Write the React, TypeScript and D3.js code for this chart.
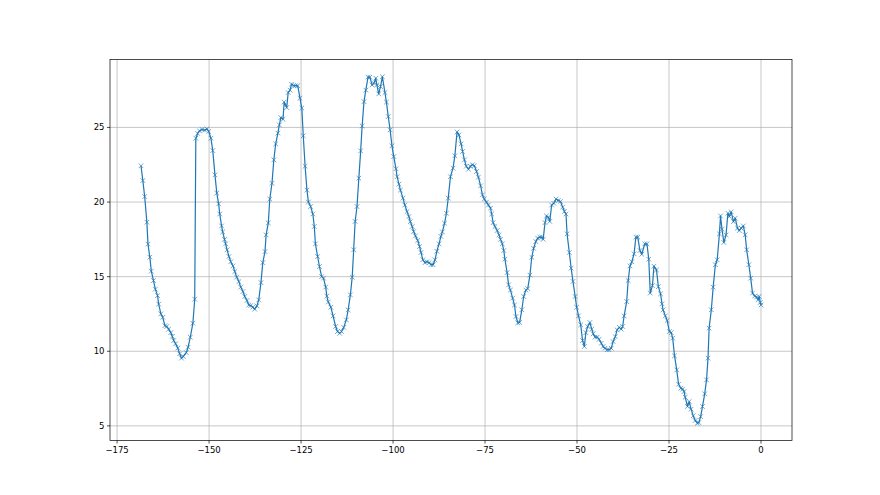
import React from "react";
import * as d3 from "d3";

const hours = [
  -168.5, -168.0, -167.5, -166.9, -166.6, -166.1, -165.7, -165.1, -164.6, -164.0,
  -163.7, -163.1, -162.6, -162.0, -161.5, -161.0, -160.4, -160.0, -159.6, -159.1,
  -158.5, -158.0, -157.5, -157.0, -156.2, -155.7, -155.1, -154.4, -153.9, -153.6,
  -153.1, -152.6, -151.9, -151.2, -150.6, -150.1, -149.5, -149.0, -148.4, -147.9,
  -147.4, -147.1, -146.6, -146.3, -145.8, -145.5, -145.1, -144.6, -144.1, -143.5,
  -143.0, -142.5, -141.9, -141.4, -140.8, -140.3, -139.7, -139.2, -138.7, -138.1,
  -137.6, -137.0, -136.5, -135.9, -135.4, -134.8, -134.5, -133.9, -133.5, -132.9,
  -132.4, -131.9, -131.3, -130.9, -130.5, -129.9, -129.6, -128.9, -128.5, -128.0,
  -127.6, -127.0, -126.5, -125.9, -125.3, -124.8, -124.4, -123.9, -123.4, -123.0,
  -122.4, -121.8, -121.4, -121.1, -120.5, -120.0, -119.4, -118.9, -118.3, -118.0,
  -117.6, -116.9, -116.3, -115.6, -115.1, -114.5, -114.0, -113.4, -112.7, -112.2,
  -111.6, -111.1, -110.7, -110.3, -109.8, -109.3, -108.8, -108.4, -107.9, -107.4,
  -106.8, -106.3, -105.7, -105.2, -104.7, -104.4, -103.9, -103.4, -102.9, -102.2,
  -101.8, -101.3, -100.8, -100.3, -99.8, -99.2, -98.9, -98.4, -98.0, -97.3,
  -96.8, -96.2, -95.7, -95.3, -94.8, -94.4, -93.9, -93.3, -92.8, -92.4,
  -91.9, -91.3, -90.8, -90.2, -89.7, -89.1, -88.6, -88.1, -87.5, -87.0,
  -86.6, -86.0, -85.5, -85.0, -84.4, -83.7, -83.2, -82.6, -82.1, -81.5,
  -81.1, -80.6, -80.1, -79.5, -79.0, -78.4, -77.9, -77.3, -76.8, -76.2,
  -75.7, -75.2, -74.6, -74.1, -73.5, -73.2, -72.8, -72.3, -71.7, -71.2,
  -70.8, -70.3, -69.9, -69.6, -69.0, -68.6, -68.1, -67.5, -67.0, -66.6,
  -66.1, -65.6, -65.0, -64.5, -63.9, -63.4, -62.8, -62.3, -61.8, -61.2,
  -60.7, -60.1, -59.6, -59.2, -58.7, -58.3, -57.8, -57.4, -56.9, -56.3,
  -55.7, -55.1, -54.5, -53.9, -53.4, -53.0, -52.7, -52.1, -51.6, -51.1,
  -50.5, -50.1, -49.6, -49.0, -48.5, -48.0, -47.6, -47.1, -46.5, -46.0,
  -45.6, -45.1, -44.5, -44.0, -43.4, -42.9, -42.4, -41.8, -41.3, -40.7,
  -40.2, -39.6, -39.1, -38.5, -38.0, -37.6, -37.2, -36.5, -36.1, -35.6,
  -35.1, -34.5, -34.0, -33.5, -32.9, -32.4, -31.6, -31.0, -30.5, -30.1,
  -29.5, -29.1, -28.4, -27.9, -27.3, -26.9, -26.6, -26.0, -25.5, -24.9,
  -24.4, -24.0, -23.5, -22.9, -22.4, -21.8, -21.3, -20.9, -20.6, -20.0,
  -19.5, -19.0, -18.4, -17.9, -17.3, -16.9, -16.4, -15.9, -15.3, -14.8,
  -14.4, -14.1, -13.5, -13.0, -12.4, -11.9, -11.3, -11.0, -10.6, -10.1,
  -9.5, -9.0, -8.6, -8.1, -7.5, -7.0, -6.4, -5.9, -5.4, -4.8,
  -4.3, -3.9, -3.3, -2.8, -2.3, -1.7, -1.2, -0.8, -0.5, -0.2,
  0.0,
];

const temps = [
  22.43, 21.44, 20.37, 18.65, 17.18, 16.31, 15.37, 14.74, 14.16, 13.73,
  13.16, 12.51, 12.28, 11.72, 11.66, 11.48, 11.25, 11.0, 10.72, 10.5,
  10.21, 9.83, 9.54, 9.65, 9.91, 10.27, 10.94, 11.88, 13.49, 24.28,
  24.6, 24.77, 24.86, 24.82, 24.9, 24.73, 24.28, 23.45, 21.82, 20.6,
  19.88, 19.2, 18.4, 18.0, 17.5, 17.2, 16.8, 16.35, 16.0, 15.72,
  15.34, 14.97, 14.67, 14.3, 14.0, 13.67, 13.4, 13.1, 13.06, 12.95,
  12.82, 13.04, 13.44, 14.6, 15.94, 16.68, 17.8, 18.6, 20.2, 21.26,
  22.83, 23.9, 24.62, 25.17, 25.66, 25.55, 26.7, 26.33, 27.34, 27.5,
  27.9, 27.8, 27.8, 27.8, 26.96, 26.3, 24.44, 22.4, 20.8, 20.0,
  19.7, 19.2, 18.36, 17.2, 16.35, 15.68, 15.0, 14.9, 14.3, 13.7,
  13.3, 12.95, 12.37, 11.66, 11.32, 11.2, 11.32, 11.6, 12.1, 12.77,
  13.78, 14.97, 16.8, 18.7, 19.7, 21.6, 23.43, 25.1, 26.73, 27.5,
  28.37, 28.37, 27.85, 27.96, 28.3, 27.85, 27.25, 27.74, 28.4, 27.34,
  26.7, 25.73, 24.84, 23.77, 23.05, 22.23, 21.7, 21.2, 20.8, 20.26,
  19.8, 19.36, 19.03, 18.69, 18.36, 18.02, 17.73, 17.42, 17.02, 16.62,
  16.13, 15.94, 16.0, 15.94, 15.8, 15.8, 16.13, 16.7, 17.2, 17.7,
  18.0, 18.58, 19.25, 20.26, 21.7, 22.27, 23.1, 24.7, 24.5, 23.9,
  23.39, 22.83, 22.4, 22.2, 22.4, 22.5, 22.43, 22.05, 21.67, 21.09,
  20.48, 20.2, 20.0, 19.8, 19.59, 19.2, 18.62, 18.36, 18.09, 17.8,
  17.5, 17.2, 16.75, 16.17, 15.27, 14.45, 14.1, 13.56, 13.1, 12.33,
  11.9, 11.93, 12.78, 13.67, 14.1, 14.2, 15.1, 16.3, 16.9, 17.35,
  17.58, 17.65, 17.65, 17.5, 18.62, 19.07, 18.98, 18.7, 19.8, 19.92,
  20.2, 20.1, 20.04, 19.66, 19.37, 19.2, 17.87, 16.62, 15.57, 14.68,
  13.67, 12.95, 12.37, 11.77, 10.72, 10.32, 11.25, 11.66, 11.93, 11.48,
  11.17, 10.95, 10.95, 10.8, 10.54, 10.32, 10.2, 10.1, 10.1, 10.2,
  10.65, 10.98, 11.43, 11.6, 11.48, 11.66, 12.37, 13.33, 14.74, 15.72,
  16.0, 16.53, 17.65, 17.65, 16.75, 16.5, 17.2, 17.2, 16.17, 13.9,
  14.4, 15.7, 15.45, 14.33, 13.85, 13.18, 12.77, 12.37, 12.06, 11.32,
  11.25, 10.88, 9.69, 8.75, 7.79, 7.52, 7.46, 7.3, 6.92, 6.3,
  6.63, 6.12, 5.67, 5.36, 5.18, 5.22, 5.62, 6.3, 7.15, 8.08,
  9.54, 11.55, 12.78, 14.3, 15.8, 16.13, 17.87, 19.07, 18.18, 17.29,
  17.8, 19.25, 19.03, 19.34, 18.69, 18.92, 18.25, 18.09, 18.25, 18.4,
  17.8, 16.8, 15.8, 14.9, 13.9, 13.7, 13.63, 13.45, 13.67, 13.27,
  13.1,
];

const xTicks = [-175, -150, -125, -100, -75, -50, -25, 0];
const yTicks = [5, 10, 15, 20, 25];

const W = 880;
const H = 495;
const M = { left: 110, right: 792, top: 59.4, bottom: 440.5 };
const LINE = "#1f77b4";
const FONT = "DejaVu Sans, sans-serif";

function padDomain(vals: number[]): [number, number] {
  const [lo, hi] = d3.extent(vals) as [number, number];
  const p = (hi - lo) * 0.05;
  return [lo - p, hi + p];
}

function fmt(v: number) {
  return v < 0 ? "\u2212" + Math.abs(v) : String(v);
}

export default function App() {
  const pts = hours.map((h, i) => ({ x: h, y: temps[i] }));
  const x = d3.scaleLinear().domain(padDomain(hours)).range([M.left, M.right]);
  const y = d3.scaleLinear().domain(padDomain(temps)).range([M.bottom, M.top]);
  const line = d3
    .line<{ x: number; y: number }>()
    .x((d) => x(d.x))
    .y((d) => y(d.y));
  const ms = 2.3;
  return (
    <svg
      width={W}
      height={H}
      style={{ position: "absolute", left: 0, top: 0, background: "#fff" }}
      fontFamily={FONT}
    >
      <rect x={0} y={0} width={W} height={H} fill="#fff" />
      <g>
        {xTicks.map((t) => (
          <line key={"gx" + t} x1={x(t)} x2={x(t)} y1={M.top} y2={M.bottom} stroke="#b0b0b0" strokeWidth={0.7} />
        ))}
        {yTicks.map((t) => (
          <line key={"gy" + t} x1={M.left} x2={M.right} y1={y(t)} y2={y(t)} stroke="#b0b0b0" strokeWidth={0.7} />
        ))}
      </g>
      <path d={line(pts) || ""} fill="none" stroke={LINE} strokeWidth={1.2} strokeLinejoin="round" />
      <g stroke={LINE} strokeWidth={0.75} opacity={0.85}>
        {pts.map((p, i) => {
          const cx = x(p.x);
          const cy = y(p.y);
          return (
            <path key={i} d={`M${cx - ms},${cy - ms}L${cx + ms},${cy + ms}M${cx - ms},${cy + ms}L${cx + ms},${cy - ms}`} />
          );
        })}
      </g>
      <rect x={M.left} y={M.top} width={M.right - M.left} height={M.bottom - M.top} fill="none" stroke="#000" strokeWidth={0.7} />
      <g fontSize={8.5} fill="#000">
        {xTicks.map((t) => (
          <g key={"tx" + t}>
            <line x1={x(t)} x2={x(t)} y1={M.bottom} y2={M.bottom + 3} stroke="#000" strokeWidth={0.7} />
            <text x={x(t)} y={M.bottom + 12} textAnchor="middle">
              {fmt(t)}
            </text>
          </g>
        ))}
        {yTicks.map((t) => (
          <g key={"ty" + t}>
            <line x1={M.left - 3} x2={M.left} y1={y(t)} y2={y(t)} stroke="#000" strokeWidth={0.7} />
            <text x={M.left - 5.5} y={y(t)} dy="0.35em" textAnchor="end">
              {fmt(t)}
            </text>
          </g>
        ))}
      </g>
    </svg>
  );
}
